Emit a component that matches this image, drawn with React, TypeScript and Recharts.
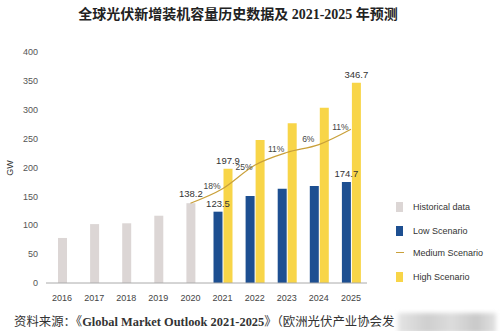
import React from 'react';
import { ComposedChart, Bar, Line, XAxis, YAxis, LabelList } from 'recharts';

const years = ['2016', '2017', '2018', '2019', '2020', '2021', '2022', '2023', '2024', '2025'];
const historical = [78, 102, 103.4, 116.5, 138.2, null, null, null, null, null];
const lowScenario = [null, null, null, null, null, 123.5, 150.6, 163.3, 168, 174.7];
const mediumScenario = [null, null, null, null, 138.2, 163.2, 203.9, 226.0, 239.7, 266.2];
const highScenario = [null, null, null, null, null, 197.9, 247.6, 276.5, 303.5, 346.7];
const growthLabels = ['', '', '', '', '', '18%', '25%', '11%', '6%', '11%'];
const histLabels = ['', '', '', '', '138.2', '', '', '', '', ''];
const lowLabels = ['', '', '', '', '', '123.5', '', '', '', '174.7'];
const highLabels = ['', '', '', '', '', '197.9', '', '', '', '346.7'];
const yTicks = [0, 50, 100, 150, 200, 250, 300, 350, 400];
const legendItems = ['Historical data', 'Low Scenario', 'Medium Scenario', 'High Scenario'];

const COLORS = {
  hist: '#dcd6d5',
  low: '#1d4f91',
  medium: '#c9a03a',
  high: '#f8d548',
};

const data = years.map((y, i) => ({
  year: y,
  hist: historical[i],
  low: lowScenario[i],
  medium: mediumScenario[i],
  high: highScenario[i],
  histLabel: histLabels[i],
  lowLabel: lowLabels[i],
  highLabel: highLabels[i],
}));

const FONT = "'Liberation Sans', Arial, sans-serif";

const pts: Record<number, { x: number; y: number }> = {};

const GrowthDot = (props: any) => {
  const { cx, cy, index } = props;
  if (cx == null || cy == null || isNaN(cy)) return <g key={`g${index}`} />;
  pts[index] = { x: cx, y: cy };
  const prev = pts[index - 1];
  const text = growthLabels[index];
  if (!text || !prev) return <g key={`g${index}`} />;
  return (
    <g key={`g${index}`}>
      <text
        x={(prev.x + cx) / 2 + 5.5}
        y={(prev.y + cy) / 2 - 9}
        textAnchor="middle"
        dominantBaseline="middle"
        fontSize={8.5}
        fill="#444"
        fontFamily={FONT}
      >
        {text}
      </text>
    </g>
  );
};

const legendColor = [COLORS.hist, COLORS.low, COLORS.medium, COLORS.high];

export default function App() {
  return (
    <div style={{ position: 'absolute', left: 0, top: 0, width: 500, height: 331, background: '#fff', overflow: 'hidden' }}>
      <div
        style={{
          position: 'absolute',
          left: 0,
          top: 5,
          width: 476,
          textAlign: 'center',
          fontFamily: "'Liberation Serif', 'Noto Sans CJK SC', serif",
          fontSize: 14,
          fontWeight: 600,
          color: '#222',
          lineHeight: '20px',
        }}
      >
        全球光伏新增装机容量历史数据及 2021-2025 年预测
      </div>
      <div
        style={{
          position: 'absolute',
          left: 2,
          top: 162,
          width: 16,
          height: 12,
          transform: 'rotate(-90deg)',
          fontFamily: FONT,
          fontSize: 9,
          color: '#333',
          textAlign: 'center',
          lineHeight: '12px',
        }}
      >
        GW
      </div>
      <div style={{ position: 'absolute', left: 0, top: 0 }}>
        <ComposedChart
          width={500}
          height={331}
          data={data}
          margin={{ top: 52, right: 133, bottom: 0, left: 16 }}
          barGap={1}
        >
          <XAxis
            dataKey="year"
            xAxisId="main"
            height={48}
            tickLine={false}
            axisLine={{ stroke: '#aaa', strokeWidth: 1 }}
            tick={{ fontSize: 9, fill: '#444', fontFamily: FONT }}
            tickMargin={6}
            interval={0}
          />
          <XAxis dataKey="year" xAxisId="hist" hide height={0} />
          <YAxis
            width={30}
            domain={[0, 400]}
            ticks={yTicks}
            tickLine={false}
            axisLine={false}
            tick={{ fontSize: 9, fill: '#555', fontFamily: FONT }}
            interval={0}
          />
          <Bar dataKey="hist" xAxisId="hist" fill={COLORS.hist} barSize={9} isAnimationActive={false}>
            <LabelList dataKey="histLabel" position="top" offset={6} fontSize={9.5} fill="#333" fontFamily={FONT} />
          </Bar>
          <Bar dataKey="low" xAxisId="main" fill={COLORS.low} barSize={9} isAnimationActive={false}>
            <LabelList dataKey="lowLabel" position="top" offset={5} fontSize={9.5} fill="#333" fontFamily={FONT} />
          </Bar>
          <Bar dataKey="high" xAxisId="main" fill={COLORS.high} barSize={9} isAnimationActive={false}>
            <LabelList dataKey="highLabel" position="top" offset={5} fontSize={9.5} fill="#333" fontFamily={FONT} />
          </Bar>
          <Line
            dataKey="medium"
            xAxisId="main"
            type="monotone"
            stroke={COLORS.medium}
            strokeWidth={1.2}
            dot={GrowthDot}
            activeDot={false}
            isAnimationActive={false}
          />
        </ComposedChart>
      </div>
      <div style={{ position: 'absolute', left: 396, top: 200, fontFamily: FONT, fontSize: 9, color: '#333' }}>
        {legendItems.map((name, i) => (
          <div key={name} style={{ position: 'absolute', left: 0, top: [0, 24, 46, 70][i], width: 110, height: 14 }}>
            {i === 2 ? (
              <div style={{ position: 'absolute', left: 0, top: 6, width: 8, height: 1, background: legendColor[i] }} />
            ) : (
              <div style={{ position: 'absolute', left: 0, top: 2, width: 7, height: 10, background: legendColor[i] }} />
            )}
            <div style={{ position: 'absolute', left: 17, top: 0, lineHeight: '14px', whiteSpace: 'nowrap' }}>{name}</div>
          </div>
        ))}
      </div>
      <div
        style={{
          position: 'absolute',
          left: 14,
          top: 313,
          fontFamily: "'Liberation Serif', 'Noto Sans CJK SC', serif",
          fontSize: 12.4,
          fontWeight: 400,
          color: '#333',
          lineHeight: '18px',
          whiteSpace: 'nowrap',
        }}
      >
        资料来源：《<span style={{ fontWeight: 700 }}>Global Market Outlook 2021-2025</span>》（欧洲光伏产业协会发
      </div>
      <div
        style={{
          position: 'absolute',
          left: 398,
          top: 313,
          width: 98,
          height: 20,
          background: 'linear-gradient(90deg, #e4e4e4 0%, #cfcfcf 30%, #dcdcdc 55%, #c9c9c9 80%, #e2e2e2 100%)',
          filter: 'blur(2px)',
        }}
      />
    </div>
  );
}
